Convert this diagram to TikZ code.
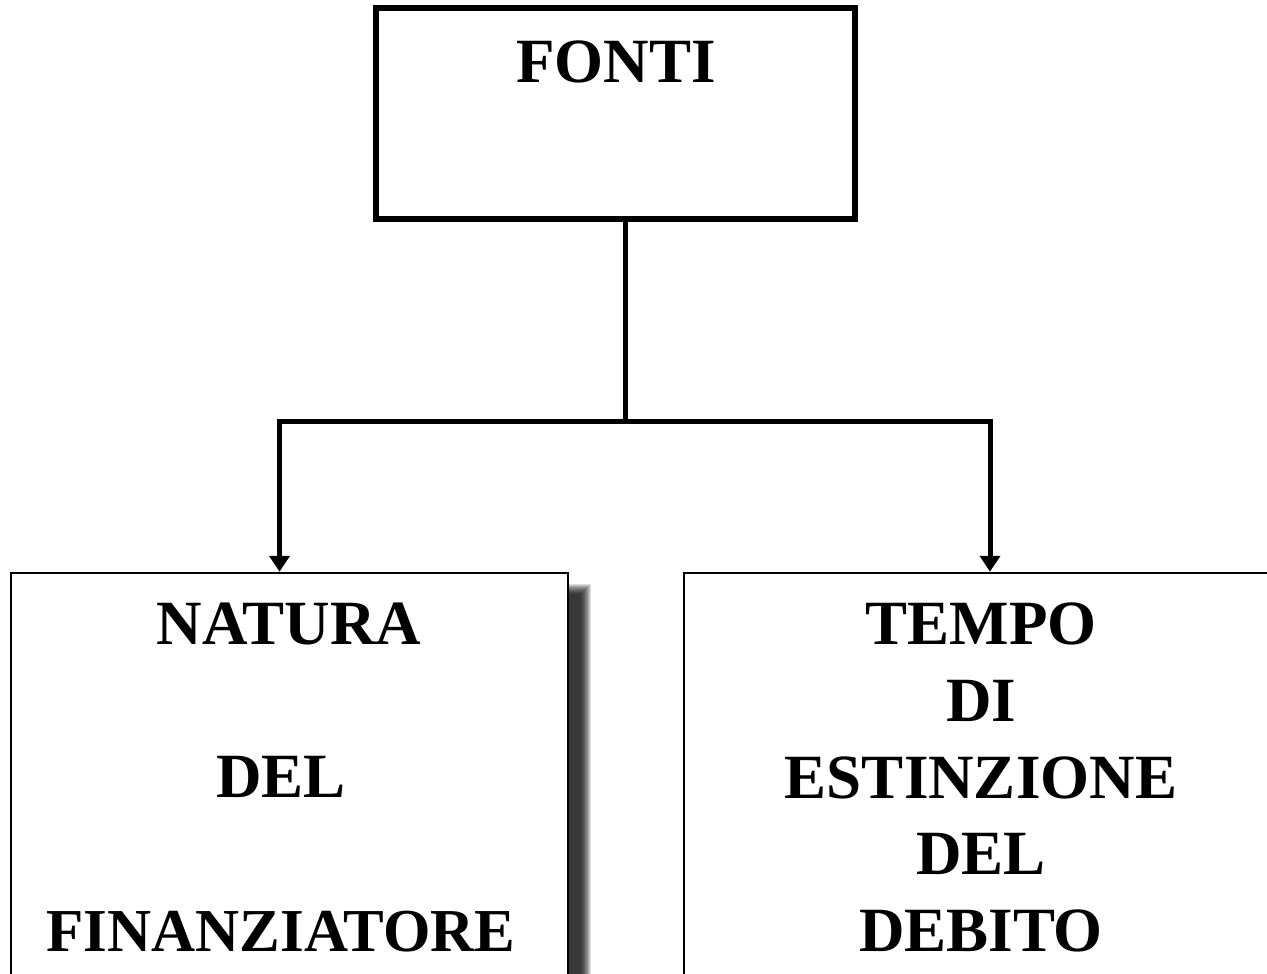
\documentclass[tikz,border=0pt]{standalone}
\usepackage{fontspec}
\setmainfont{Liberation Serif}
\usetikzlibrary{arrows.meta}

\begin{document}
\begin{tikzpicture}[x=1pt, y=-1pt,
    every node/.style={font=\bfseries\fontsize{63}{76.6}\selectfont},
    box/.style={draw, fill=white, inner sep=0pt},
    boxtext/.style={inner sep=0pt, align=center},
    tip/.tip={Triangle[width=20pt,length=16pt]}]
      % page frame
      \useasboundingbox (0,0) rectangle (1267,974);
      \clip (0,0) rectangle (1267,974);
      % FONTI box on top
      \node[box, line width=6pt, minimum width=479.5pt, minimum height=211pt] (fonti) at (615.25,113.5) {};
      \node[boxtext, anchor=base] (fontitxt) at (616,83) {FONTI};
      % shadow of the left box
      \foreach \d in {0,1,...,10}
        \fill[black, opacity=0.13] (568,594-\d) rectangle (581+\d,1000);
      % left box (cut off by the page)
      \node[box, line width=2.5pt, minimum width=557pt, minimum height=437pt] (natura) at (289.5,791.5) {};
      \node[boxtext, anchor=north] (naturatxt) at (281,603) {\hspace*{16pt}NATURA\\[76.6pt]DEL\\[76.6pt]{\fontsize{61}{76.6}\selectfont FINANZIATORE}};
      % right box (cut off by the page)
      \node[box, line width=2.5pt, minimum width=606pt, minimum height=437pt] (tempo) at (987,791.5) {};
      \node[boxtext, anchor=north] (tempotxt) at (981,603) {TEMPO\\DI\\ESTINZIONE\\DEL\\DEBITO};
      % connectors
      \coordinate (split) at (625,421);
      \coordinate (jl) at (279.5,421);
      \coordinate (jr) at (990,421);
      \draw[line width=5pt] (fonti.south -| split) -- (split);
      \draw[line width=5pt, tip-tip] (natura.north -| jl) -- (jl) -- (jr) -- (tempo.north -| jr);
    \end{tikzpicture}
\end{document}
